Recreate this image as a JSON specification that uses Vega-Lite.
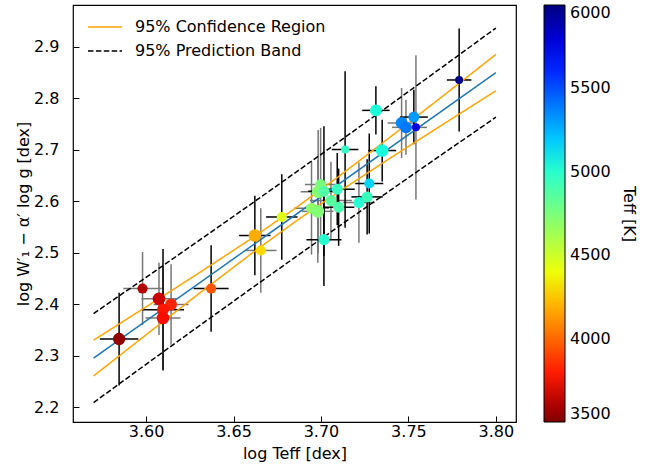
{
  "$schema": "https://vega.github.io/schema/vega-lite/v6.json",
  "width": 443,
  "height": 417,
  "autosize": {"type": "none"},
  "padding": {"left": 73, "top": 5, "right": 143, "bottom": 52},
  "background": "white",
  "config": {
    "font": "DejaVu Sans",
    "view": {"stroke": "black", "strokeWidth": 1.2},
    "axis": {
      "grid": false,
      "domain": false,
      "tickSize": -6,
      "tickColor": "black",
      "tickWidth": 1,
      "labelFontSize": 16,
      "labelColor": "black",
      "titleFontSize": 16,
      "titleFontWeight": "normal",
      "titleColor": "black",
      "labelFlush": false
    },
    "axisX": {"labelPadding": 7, "titlePadding": 6},
    "axisY": {"labelPadding": 20, "titlePadding": 2}
  },
  "datasets": {
    "pts": [
      {"x": 3.5846, "y": 2.332, "xe": 0.011, "ye": 0.09, "teff": 3540, "n": 3.8, "g": "a"},
      {"x": 3.598, "y": 2.430, "xe": 0.011, "ye": 0.071, "teff": 3610, "n": 2.5, "g": "b"},
      {"x": 3.6074, "y": 2.410, "xe": 0.010, "ye": 0.07, "teff": 3660, "n": 4, "g": "b"},
      {"x": 3.6143, "y": 2.399, "xe": 0.010, "ye": 0.078, "teff": 3820, "n": 3.5, "g": "b"},
      {"x": 3.6097, "y": 2.389, "xe": 0.012, "ye": 0.118, "teff": 3780, "n": 3.5, "g": "a"},
      {"x": 3.6097, "y": 2.373, "xe": 0.010, "ye": 0.10, "teff": 3760, "n": 4, "g": "b"},
      {"x": 3.6372, "y": 2.430, "xe": 0.010, "ye": 0.084, "teff": 3950, "n": 2.5, "g": "a"},
      {"x": 3.6622, "y": 2.533, "xe": 0.009, "ye": 0.077, "teff": 4180, "n": 4, "g": "a"},
      {"x": 3.6656, "y": 2.504, "xe": 0.009, "ye": 0.082, "teff": 4300, "n": 2.5, "g": "b"},
      {"x": 3.6776, "y": 2.569, "xe": 0.009, "ye": 0.083, "teff": 4450, "n": 2.5, "g": "a"},
      {"x": 3.6998, "y": 2.632, "xe": 0.009, "ye": 0.11, "teff": 4760, "n": 3, "g": "b"},
      {"x": 3.6984, "y": 2.618, "xe": 0.010, "ye": 0.12, "teff": 4720, "n": 4, "g": "b"},
      {"x": 3.7017, "y": 2.619, "xe": 0.009, "ye": 0.126, "teff": 4880, "n": 3, "g": "a"},
      {"x": 3.7093, "y": 2.623, "xe": 0.010, "ye": 0.07, "teff": 4960, "n": 3, "g": "a"},
      {"x": 3.7057, "y": 2.601, "xe": 0.012, "ye": 0.075, "teff": 4860, "n": 3, "g": "b"},
      {"x": 3.6946, "y": 2.586, "xe": 0.010, "ye": 0.09, "teff": 4680, "n": 3, "g": "b"},
      {"x": 3.6982, "y": 2.580, "xe": 0.009, "ye": 0.10, "teff": 4730, "n": 4, "g": "b"},
      {"x": 3.7101, "y": 2.588, "xe": 0.009, "ye": 0.075, "teff": 4900, "n": 3, "g": "a"},
      {"x": 3.7017, "y": 2.525, "xe": 0.010, "ye": 0.09, "teff": 5000, "n": 3, "g": "a"},
      {"x": 3.7138, "y": 2.700, "xe": 0.0076, "ye": 0.152, "teff": 4980, "n": 1.5, "g": "a"},
      {"x": 3.7350, "y": 2.698, "xe": 0.008, "ye": 0.06, "teff": 5050, "n": 4, "g": "a"},
      {"x": 3.7276, "y": 2.634, "xe": 0.008, "ye": 0.097, "teff": 5160, "n": 2.5, "g": "a"},
      {"x": 3.7217, "y": 2.597, "xe": 0.009, "ye": 0.078, "teff": 5010, "n": 3, "g": "b"},
      {"x": 3.7264, "y": 2.608, "xe": 0.009, "ye": 0.073, "teff": 4950, "n": 3, "g": "a"},
      {"x": 3.7314, "y": 2.776, "xe": 0.0078, "ye": 0.047, "teff": 5040, "n": 3.5, "g": "a"},
      {"x": 3.7461, "y": 2.7515, "xe": 0.008, "ye": 0.068, "teff": 5360, "n": 3.5, "g": "b"},
      {"x": 3.7486, "y": 2.743, "xe": 0.008, "ye": 0.053, "teff": 5400, "n": 3.5, "g": "b"},
      {"x": 3.7531, "y": 2.763, "xe": 0.008, "ye": 0.053, "teff": 5310, "n": 3, "g": "a"},
      {"x": 3.7543, "y": 2.743, "xe": 0.0063, "ye": 0.14, "teff": 5760, "n": 1.5, "g": "b"},
      {"x": 3.779, "y": 2.835, "xe": 0.007, "ye": 0.10, "teff": 5980, "n": 1.5, "g": "a"}
    ],
    "fit": [
      {"x": 3.57, "y": 2.295},
      {"x": 3.80, "y": 2.8493}
    ],
    "bands": [
      {"x": 3.57, "y": 2.3297, "band": "95% Confidence Region", "side": "cu"},
      {"x": 3.60, "y": 2.3944, "band": "95% Confidence Region", "side": "cu"},
      {"x": 3.63, "y": 2.4597, "band": "95% Confidence Region", "side": "cu"},
      {"x": 3.66, "y": 2.5266, "band": "95% Confidence Region", "side": "cu"},
      {"x": 3.685, "y": 2.5852, "band": "95% Confidence Region", "side": "cu"},
      {"x": 3.71, "y": 2.6473, "band": "95% Confidence Region", "side": "cu"},
      {"x": 3.74, "y": 2.7252, "band": "95% Confidence Region", "side": "cu"},
      {"x": 3.77, "y": 2.8046, "band": "95% Confidence Region", "side": "cu"},
      {"x": 3.80, "y": 2.8846, "band": "95% Confidence Region", "side": "cu"},
      {"x": 3.57, "y": 2.2603, "band": "95% Confidence Region", "side": "cl"},
      {"x": 3.60, "y": 2.3402, "band": "95% Confidence Region", "side": "cl"},
      {"x": 3.63, "y": 2.4196, "band": "95% Confidence Region", "side": "cl"},
      {"x": 3.66, "y": 2.4972, "band": "95% Confidence Region", "side": "cl"},
      {"x": 3.685, "y": 2.5592, "band": "95% Confidence Region", "side": "cl"},
      {"x": 3.71, "y": 2.6175, "band": "95% Confidence Region", "side": "cl"},
      {"x": 3.74, "y": 2.6842, "band": "95% Confidence Region", "side": "cl"},
      {"x": 3.77, "y": 2.7494, "band": "95% Confidence Region", "side": "cl"},
      {"x": 3.80, "y": 2.8140, "band": "95% Confidence Region", "side": "cl"},
      {"x": 3.57, "y": 2.3815, "band": "95% Prediction Band", "side": "pu"},
      {"x": 3.60, "y": 2.4517, "band": "95% Prediction Band", "side": "pu"},
      {"x": 3.63, "y": 2.5226, "band": "95% Prediction Band", "side": "pu"},
      {"x": 3.66, "y": 2.5941, "band": "95% Prediction Band", "side": "pu"},
      {"x": 3.685, "y": 2.6542, "band": "95% Prediction Band", "side": "pu"},
      {"x": 3.71, "y": 2.7146, "band": "95% Prediction Band", "side": "pu"},
      {"x": 3.74, "y": 2.7878, "band": "95% Prediction Band", "side": "pu"},
      {"x": 3.77, "y": 2.8616, "band": "95% Prediction Band", "side": "pu"},
      {"x": 3.80, "y": 2.9359, "band": "95% Prediction Band", "side": "pu"},
      {"x": 3.57, "y": 2.2086, "band": "95% Prediction Band", "side": "pl"},
      {"x": 3.60, "y": 2.2829, "band": "95% Prediction Band", "side": "pl"},
      {"x": 3.63, "y": 2.3566, "band": "95% Prediction Band", "side": "pl"},
      {"x": 3.66, "y": 2.4297, "band": "95% Prediction Band", "side": "pl"},
      {"x": 3.685, "y": 2.4902, "band": "95% Prediction Band", "side": "pl"},
      {"x": 3.71, "y": 2.5502, "band": "95% Prediction Band", "side": "pl"},
      {"x": 3.74, "y": 2.6216, "band": "95% Prediction Band", "side": "pl"},
      {"x": 3.77, "y": 2.6924, "band": "95% Prediction Band", "side": "pl"},
      {"x": 3.80, "y": 2.7627, "band": "95% Prediction Band", "side": "pl"}
    ]
  },
  "encoding": {
    "x": {
      "field": "x", "type": "quantitative",
      "scale": {"domain": [3.55824, 3.8115], "nice": false, "zero": false},
      "axis": {"values": [3.6, 3.65, 3.7, 3.75, 3.8], "format": ".2f", "title": "log Teff [dex]"}
    },
    "y": {
      "field": "y", "type": "quantitative",
      "scale": {"domain": [2.1709, 2.9806], "nice": false, "zero": false},
      "axis": {"values": [2.2, 2.3, 2.4, 2.5, 2.6, 2.7, 2.8, 2.9], "format": ".1f", "title": "log W′₁ − α′ log g [dex]"}
    }
  },
  "layer": [
    {
      "data": {"name": "pts"},
      "transform": [{"filter": "datum.g === 'b'"}],
      "mark": {"type": "errorbar", "color": "#777777", "thickness": 1.5},
      "encoding": {"xError": {"field": "xe"}}
    },
    {
      "data": {"name": "pts"},
      "transform": [{"filter": "datum.g === 'b'"}],
      "mark": {"type": "errorbar", "color": "#777777", "thickness": 1.5},
      "encoding": {"yError": {"field": "ye"}}
    },
    {
      "data": {"name": "pts"},
      "transform": [{"filter": "datum.g === 'a'"}],
      "mark": {"type": "errorbar", "color": "black", "thickness": 1.5},
      "encoding": {"xError": {"field": "xe"}}
    },
    {
      "data": {"name": "pts"},
      "transform": [{"filter": "datum.g === 'a'"}],
      "mark": {"type": "errorbar", "color": "black", "thickness": 1.5},
      "encoding": {"yError": {"field": "ye"}}
    },
    {
      "data": {"name": "bands"},
      "mark": {"type": "line", "strokeWidth": 1.5, "strokeCap": "butt"},
      "encoding": {
        "detail": {"field": "side", "type": "nominal"},
        "stroke": {
          "field": "band", "type": "nominal",
          "scale": {"domain": ["95% Confidence Region", "95% Prediction Band"], "range": ["orange", "black"]},
          "legend": {"title": null, "orient": "top-left", "offset": 14, "padding": 0, "symbolType": "stroke", "symbolSize": 1156, "symbolStrokeWidth": 1.5, "labelFontSize": 16, "labelColor": "black", "labelOffset": 12, "labelLimit": 400, "clipHeight": 16, "rowPadding": 8}
        },
        "strokeDash": {
          "field": "band", "type": "nominal",
          "scale": {"domain": ["95% Confidence Region", "95% Prediction Band"], "range": [[1, 0], [5.5, 2.4]]},
          "legend": {"title": null, "orient": "top-left", "offset": 14, "padding": 0, "symbolType": "stroke", "symbolSize": 1156, "symbolStrokeWidth": 1.5, "labelFontSize": 16, "labelColor": "black", "labelOffset": 12, "labelLimit": 400, "clipHeight": 16, "rowPadding": 8}
        }
      }
    },
    {
      "data": {"name": "fit"},
      "mark": {"type": "line", "color": "#1f77b4", "strokeWidth": 1.5},
      "encoding": {}
    },
    {
      "data": {"name": "pts"},
      "mark": {"type": "circle", "opacity": 1, "strokeWidth": 0},
      "encoding": {
        "size": {"field": "n", "type": "quantitative", "scale": {"domain": [1, 4], "range": [45, 160]}, "legend": null},
        "fill": {
          "field": "teff", "type": "quantitative",
          "scale": {
            "domain": [3500, 3725, 3775, 4350, 4400, 4750, 5062, 5150, 5700, 6000],
            "range": ["#800000", "#e80000", "#ff1300", "#ffec00", "#eeff08", "#7bff7b", "#14ffe2", "#00dbff", "#0000ff", "#000080"],
            "interpolate": "rgb"
          },
          "legend": {
            "orient": "right", "offset": 28, "padding": 0, "direction": "vertical",
            "gradientLength": 417, "gradientThickness": 21,
            "gradientStrokeColor": "black", "gradientStrokeWidth": 1,
            "values": [3500, 4000, 4500, 5000, 5500, 6000], "format": "d",
            "labelFontSize": 16, "labelColor": "black", "labelOffset": 5, "labelOverlap": false,
            "title": "Teff [K]", "titleOrient": "right", "titleAnchor": "middle",
            "titleFontSize": 16, "titleFontWeight": "normal", "titleColor": "black", "titlePadding": 10
          }
        }
      }
    }
  ]
}
